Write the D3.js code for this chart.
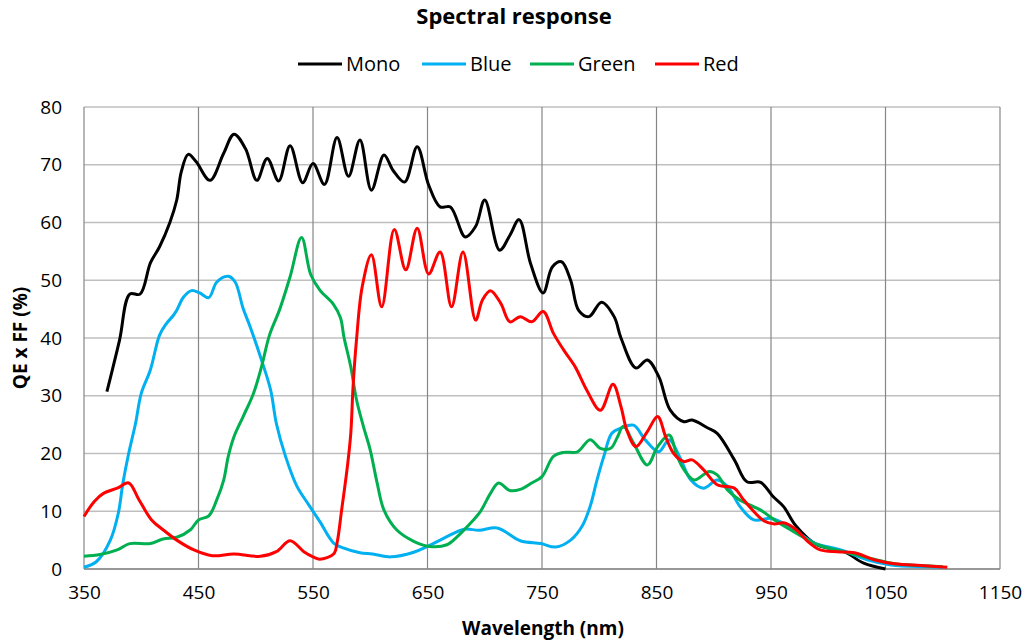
<!DOCTYPE html>
<html><head><meta charset="utf-8">
<script src="https://cdn.jsdelivr.net/npm/d3@7"></script>
<style>body{margin:0;background:#fff}svg{display:block}text{font-family:"Open Sans",sans-serif;fill:#000}</style>
</head><body><svg id="c" width="1032" height="642"></svg>
<script>
const seriesNames = ["Mono","Blue","Green","Red"];
const seriesColors = ["#000000","#00B0F0","#00B050","#FF0000"];
const xTicks = [350,450,550,650,750,850,950,1050,1150];
const yTicks = [0,10,20,30,40,50,60,70,80];

const monoWl = [370,381,390,399,408,416,425,431,435,441,448,460,472,481,491,501,510,520,530,541,550,560,571,581,591,601,612,620,630,641,651,661,670,683,692,700,713,722,730,740,751,759,767,775,782,791,802,813,819,832,842,852,862,874,881,894,903,918,929,941,952,961,972,990,1014,1031,1050];
const monoQE = [30.7,39.6,47.6,47.6,53,55.8,60,63.9,68.8,71.8,70.5,67.3,72,75.3,72.8,67.3,71.1,67.2,73.3,66.9,70.2,66.6,74.7,68,74.3,65.6,71.7,69,67,73.1,66.5,62.7,62.7,57.5,59.3,63.9,55.2,57.8,60.5,52.9,47.8,52.3,53.2,50,44.8,43.7,46.2,43.7,40,34.8,36.2,33.3,27.5,25.5,25.8,24.5,23.5,18.9,15.1,15,12.5,10.8,7.4,4.2,3,1,0];

const blueWl = [350,361,373,380,384,389,395,400,408,416,422,428,431,437,444,451,459,466,476,482,489,495,505,513,518,526,536,546,556,568,577,591,602,618,638,650,664,682,695,711,731,749,762,775,785,792,798,804,811,819,830,840,852,861,870,880,891,903,912,923,935,950,958,970,988,1011,1034,1055,1087,1100];
const blueQE = [0.3,1.3,5,9.7,14.9,20,25.2,30.4,34.5,40.5,42.5,43.9,44.8,47.1,48.2,47.8,47,49.7,50.7,49.7,45.1,42,36.2,31,25.2,19.5,14.3,11.2,8.2,4.5,3.6,2.8,2.6,2.1,2.9,3.9,5.3,6.9,6.7,7.1,4.9,4.4,3.8,5,7.4,10.8,15.4,19.5,23.5,24.4,24.9,22.4,20.3,22.4,19.5,15.4,14,15.4,14.3,10.8,8.5,8.8,8.2,6.8,4.5,3.3,1.6,0.7,0.4,0.3];

const greenWl = [350,364,379,390,408,419,431,443,450,459,466,472,476,481,489,498,505,512,521,530,540,548,556,568,574,577,583,588,594,600,606,612,623,638,652,667,676,685,696,705,712,722,731,741,750,760,769,781,792,801,810,816,821,830,842,851,861,868,874,883,896,903,912,923,941,953,967,991,1017,1040,1058,1081,1100];
const greenQE = [2.2,2.5,3.3,4.4,4.4,5.2,5.5,6.8,8.5,9.2,12,15.4,19.5,22.9,26.4,30.4,35,40.5,45,50.6,57.4,51,48.3,45.8,43.5,40.2,35,29.3,24.7,20.6,14.9,10.2,6.8,4.8,3.9,4.2,5.6,7.4,9.9,13.1,14.9,13.6,13.8,14.9,16,19.5,20.2,20.3,22.4,20.9,20.9,22.9,24.7,21.8,18,21.2,23.2,19.5,17.2,15.4,16.9,16.3,13.7,11.9,10.2,8.5,6.8,4.2,2.8,1.7,0.9,0.6,0.4];

const redWl = [350,359,367,379,389,398,409,419,431,446,462,481,504,518,530,542,550,556,568,571,575,580,583,585,588,593,601,610,621,631,641,651,661,671,681,692,698,705,714,722,731,741,751,760,769,779,789,801,812,819,824,832,842,851,858,865,874,881,891,903,918,926,944,953,961,972,982,993,1008,1023,1040,1058,1081,1104];
const redQE = [9.1,11.7,13.1,14,14.9,12,8.5,6.8,5,3.3,2.3,2.6,2.2,3,4.9,3,2.1,1.7,2.6,4.5,10.2,17.7,23.5,31.6,39.7,48.9,54.4,45.4,58.8,51.8,59,51.1,54.9,45.4,54.9,43.1,46.6,48.2,46,42.8,43.7,42.8,44.6,40.8,37.9,35,31,27.5,32,28.1,24.1,21.2,23.8,26.4,22.9,20,18.6,18.9,17.2,14.6,14,12,8.3,7.8,8,6.8,4.8,3.3,3,2.8,1.6,0.9,0.6,0.3];

const series = [[monoWl,monoQE],[blueWl,blueQE],[greenWl,greenQE],[redWl,redQE]];

const svg = d3.select("#c");
const L=84, R=1000, T=107, B=569;
const x = d3.scaleLinear().domain([350,1150]).range([L,R]);
const y = d3.scaleLinear().domain([0,80]).range([B,T]);

// gridlines
svg.append("g").selectAll("line").data(yTicks).join("line")
  .attr("x1",L).attr("x2",R).attr("y1",d=>y(d)).attr("y2",d=>y(d))
  .attr("stroke","#bfbfbf").attr("stroke-width",1.5);
svg.append("g").selectAll("line").data(xTicks).join("line")
  .attr("y1",T).attr("y2",B).attr("x1",d=>x(d)).attr("x2",d=>x(d))
  .attr("stroke","#868686").attr("stroke-width",1.2);
svg.append("line").attr("x1",L).attr("x2",R).attr("y1",B).attr("y2",B).attr("stroke","#868686").attr("stroke-width",1.5);

// axes labels via d3 axes
const xa = svg.append("g").attr("transform",`translate(0,${B})`)
  .call(d3.axisBottom(x).tickValues(xTicks).tickSize(0).tickPadding(17).tickFormat(d3.format("d")));
xa.select(".domain").remove();
xa.selectAll("text").attr("font-size",19).attr("font-family","Open Sans, sans-serif").attr("fill","#000");
const ya = svg.append("g").attr("transform",`translate(${L},0)`)
  .call(d3.axisLeft(y).tickValues(yTicks).tickSize(0).tickPadding(22));
ya.select(".domain").remove();
ya.selectAll("text").attr("font-size",19).attr("font-family","Open Sans, sans-serif").attr("fill","#000");

// lines
const line = d3.line().curve(d3.curveCatmullRom.alpha(0.5));
series.forEach((s,i)=>{
  const pts = s[0].map((w,j)=>[x(w), y(s[1][j])]);
  svg.append("path").attr("d",line(pts)).attr("fill","none")
    .attr("stroke",seriesColors[i]).attr("stroke-width",3).attr("stroke-linejoin","round");
});

// title
svg.append("text").attr("x",514).attr("y",24).attr("text-anchor","middle")
  .attr("font-size",22).attr("font-weight","bold").text("Spectral response");

// legend
const legX = [298,422,530,655];
seriesNames.forEach((n,i)=>{
  svg.append("line").attr("x1",legX[i]).attr("x2",legX[i]+44).attr("y1",64).attr("y2",64)
    .attr("stroke",seriesColors[i]).attr("stroke-width",3);
  svg.append("text").attr("x",legX[i]+48).attr("y",71).attr("font-size",20).text(n);
});

// axis titles
svg.append("text").attr("x",543).attr("y",635).attr("text-anchor","middle")
  .attr("font-size",19).attr("font-weight","bold").text("Wavelength (nm)");
svg.append("text").attr("transform","translate(27,338) rotate(-90)").attr("text-anchor","middle")
  .attr("font-size",19).attr("font-weight","bold").text("QE x FF (%)");
</script></body></html>
